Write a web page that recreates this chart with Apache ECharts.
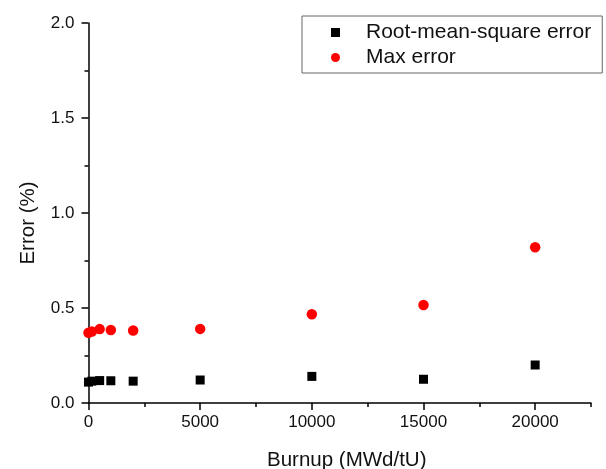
<!DOCTYPE html>
<html>
<head>
<meta charset="utf-8">
<script src="https://cdn.jsdelivr.net/npm/echarts@6/dist/echarts.min.js"></script>
<style>
  html, body { margin: 0; padding: 0; background: #fff; }
  #chart { width: 606px; height: 469px; }
</style>
</head>
<body>
<div id="chart"></div>
<script>
// burnup points (MWd/tU)
const burnup = [0, 150, 500, 1000, 2000, 5000, 10000, 15000, 20000];
// errors in %
const rmsError = [0.11, 0.115, 0.118, 0.117, 0.115, 0.121, 0.14, 0.125, 0.20];
const maxError = [0.37, 0.376, 0.389, 0.384, 0.382, 0.39, 0.467, 0.516, 0.82];
const xMajorTicks = [0, 5000, 10000, 15000, 20000];

const font = 'Arial, "Liberation Sans", sans-serif';
const chart = echarts.init(document.getElementById('chart'));

const pairs = (ys) => burnup.map((x, i) => [x, ys[i]]);

const option = {
  animation: false,
  textStyle: { fontFamily: font },
  grid: { left: 88.5, right: 15, top: 23, bottom: 66, outerBoundsMode: 'none' },
  legend: {
    orient: 'vertical',
    left: 302,
    top: 16,
    padding: [6, 11, 5, 29],
    itemGap: 4,
    itemWidth: 9,
    itemHeight: 9,
    borderColor: '#666',
    borderWidth: 1,
    textStyle: { fontSize: 21, color: '#111', padding: [0, 0, 0, 21] },
    data: [
      { name: 'Root-mean-square error', icon: 'rect' },
      { name: 'Max error', icon: 'circle' }
    ]
  },
  xAxis: [
    {
      type: 'value',
      min: 0,
      max: 22500,
      interval: 2500,
      name: 'Burnup (MWd/tU)',
      nameLocation: 'middle',
      nameGap: 47,
      nameTextStyle: { fontSize: 20.5, color: '#111', padding: [0, 0, 0, 14] },
      axisLine: { lineStyle: { color: '#000', width: 1.5 } },
      axisTick: { show: true, length: 7, customValues: xMajorTicks, lineStyle: { color: '#000', width: 1.5 } },
      axisLabel: { fontSize: 17, color: '#111', margin: 11, customValues: xMajorTicks, formatter: (v) => String(v) },
      splitLine: { show: false }
    },
    {
      // minor ticks
      type: 'value',
      position: 'bottom',
      min: 0,
      max: 22500,
      interval: 2500,
      axisLine: { show: false },
      axisTick: { show: true, length: 4, lineStyle: { color: '#000', width: 1.5 } },
      axisLabel: { show: false },
      splitLine: { show: false }
    }
  ],
  yAxis: {
    type: 'value',
    min: 0,
    max: 2,
    interval: 0.5,
    name: 'Error (%)',
    nameLocation: 'middle',
    nameGap: 50,
    nameTextStyle: { fontSize: 20.5, color: '#111', padding: [0, 20, 0, 0] },
    axisLine: { show: true, lineStyle: { color: '#000', width: 1.5 } },
    axisTick: { show: true, length: 7, lineStyle: { color: '#000', width: 1.5 } },
    minorTick: { show: true, splitNumber: 2, length: 4, lineStyle: { color: '#000', width: 1.5 } },
    axisLabel: { fontSize: 17, color: '#111', margin: 14, formatter: (v) => v.toFixed(1) },
    splitLine: { show: false }
  },
  series: [
    {
      name: 'Root-mean-square error',
      type: 'scatter',
      symbol: 'rect',
      symbolSize: 9,
      itemStyle: { color: '#000', opacity: 1 },
      data: pairs(rmsError)
    },
    {
      name: 'Max error',
      type: 'scatter',
      symbol: 'circle',
      symbolSize: 10.5,
      itemStyle: { color: '#ff0000', opacity: 1 },
      data: pairs(maxError)
    }
  ]
};

chart.setOption(option);
</script>
</body>
</html>
